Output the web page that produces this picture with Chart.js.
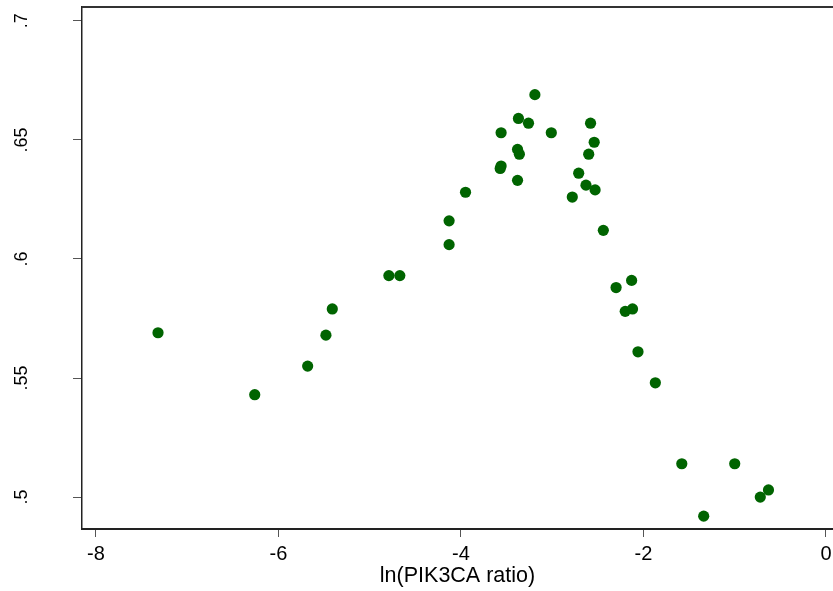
<!DOCTYPE html>
<html lang="en">
<head>
  <meta charset="utf-8" />
  <title>PIK3CA ratio scatter</title>
  <script src="https://cdn.jsdelivr.net/npm/chart.js"></script>
  <style>
    html, body { margin: 0; padding: 0; background: #fff; }
    #wrap { width: 833px; height: 591px; }
  </style>
</head>
<body>
  <div id="wrap"><canvas id="scatterChart"></canvas></div>

  <script>
    // ln(PIK3CA ratio) on x, outcome on y
    const lnRatio = [-7.32, -6.26, -5.68, -5.48, -5.41, -4.79, -4.67, -4.13, -4.13, -3.95,
                     -3.56, -3.57, -3.56, -3.37, -3.26, -3.19, -3.01, -3.38, -3.36, -3.38,
                     -2.58, -2.54, -2.60, -2.71, -2.63, -2.53, -2.78, -2.44, -2.13, -2.30,
                     -2.20, -2.12, -2.06, -1.87, -1.58, -1.00, -0.63, -0.72, -1.34];
    const yValues = [0.569, 0.543, 0.555, 0.568, 0.579, 0.593, 0.593, 0.606, 0.616, 0.628,
                     0.653, 0.638, 0.639, 0.659, 0.657, 0.669, 0.653, 0.646, 0.644, 0.633,
                     0.657, 0.649, 0.644, 0.636, 0.631, 0.629, 0.626, 0.612, 0.591, 0.588,
                     0.578, 0.579, 0.561, 0.548, 0.514, 0.514, 0.503, 0.500, 0.492];

    const xTicks = [-8, -6, -4, -2, 0];
    const yTicks = [0.5, 0.55, 0.6, 0.65, 0.7];
    const yTickLabels = ['.5', '.55', '.6', '.65', '.7'];

    const points = lnRatio.map((x, i) => ({ x: x, y: yValues[i] }));

    // labels may hang past the plot edges, don't shrink the plot for them
    function noLabelPadding(s) {
      s.paddingTop = 0;
      s.paddingBottom = 0;
      s.paddingLeft = 0;
      s.paddingRight = 0;
    }

    // top frame line, drawn over the plot area
    const topFrame = {
      id: 'topFrame',
      afterDraw(chart) {
        const { ctx, chartArea } = chart;
        ctx.save();
        ctx.strokeStyle = '#333';
        ctx.lineWidth = 2;
        ctx.beginPath();
        ctx.moveTo(chartArea.left, chartArea.top);
        ctx.lineTo(chartArea.right, chartArea.top);
        ctx.stroke();
        ctx.restore();
      }
    };

    const ctx = document.getElementById('scatterChart').getContext('2d');
    new Chart(ctx, {
      type: 'scatter',
      data: {
        datasets: [{
          data: points,
          backgroundColor: '#006400',
          borderWidth: 0,
          pointRadius: 5.6,
          pointHoverRadius: 5.6
        }]
      },
      plugins: [topFrame],
      options: {
        responsive: true,
        maintainAspectRatio: false,
        animation: false,
        layout: { autoPadding: false, padding: { top: 7, right: 0, left: 0, bottom: 0 } },
        plugins: { legend: { display: false }, tooltip: { enabled: false } },
        scales: {
          x: {
            type: 'linear',
            min: -8.153,
            max: 0.077,
            afterBuildTicks: s => { s.ticks = xTicks.map(v => ({ value: v })); },
            afterFit: s => { s.height = 62; noLabelPadding(s); },
            border: { display: true, color: '#222', width: 2 },
            grid: { drawOnChartArea: false, tickLength: 8, color: '#555', tickWidth: 1 },
            ticks: {
              color: '#000',
              padding: 5,
              maxRotation: 0,
              font: { family: 'Liberation Sans, Arial, sans-serif', size: 20 }
            },
            title: {
              display: true,
              text: 'ln(PIK3CA ratio)',
              color: '#000',
              padding: { top: 0, bottom: 2 },
              font: { family: 'Liberation Sans, Arial, sans-serif', size: 21.5 }
            }
          },
          y: {
            type: 'linear',
            min: 0.4866,
            max: 0.7058,
            afterBuildTicks: s => { s.ticks = yTicks.map(v => ({ value: v })); },
            afterFit: s => { s.width = 82; noLabelPadding(s); },
            border: { display: true, color: '#222', width: 1.5 },
            grid: { drawOnChartArea: false, tickLength: 9, color: '#555', tickWidth: 1 },
            ticks: {
              color: '#000',
              minRotation: 90,
              maxRotation: 90,
              crossAlign: 'center',
              padding: 38,
              font: { family: 'Liberation Sans, Arial, sans-serif', size: 18 },
              callback: v => yTickLabels[yTicks.indexOf(Number(v.toFixed(2)))]
            }
          }
        }
      }
    });
  </script>
</body>
</html>
